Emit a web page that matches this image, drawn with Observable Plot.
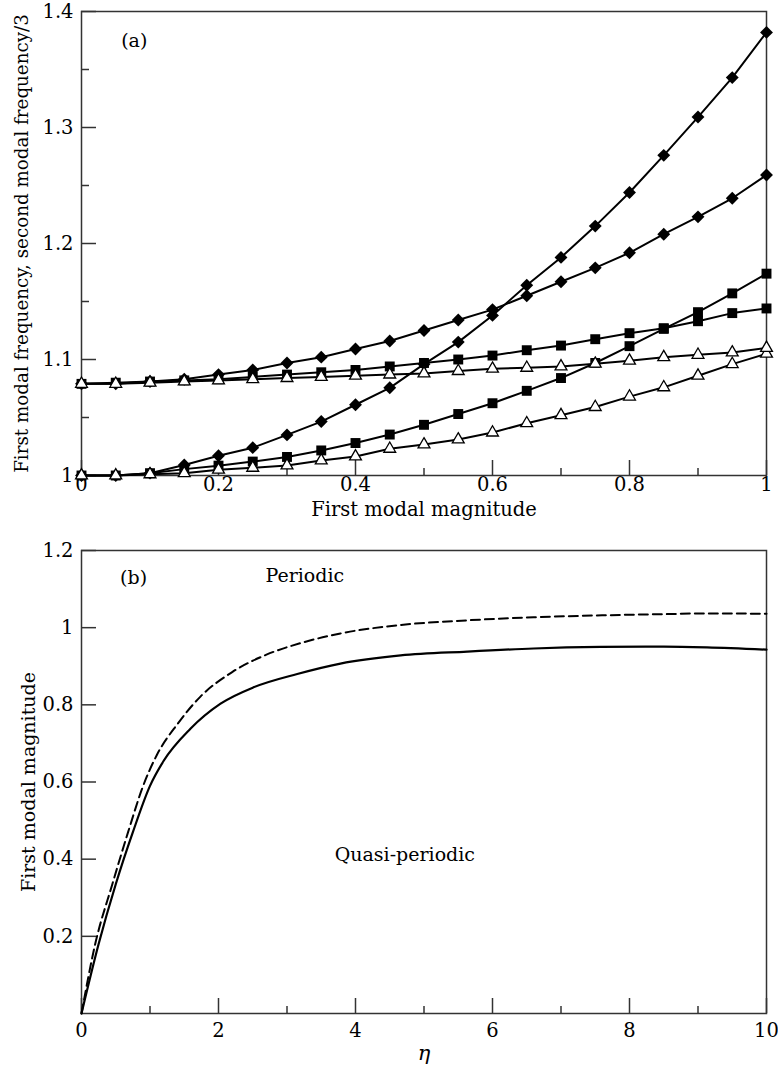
<!DOCTYPE html>
<html><head><meta charset="utf-8">
<script src="https://cdn.jsdelivr.net/npm/d3@7"></script>
<script src="https://cdn.jsdelivr.net/npm/@observablehq/plot@0.6"></script>
<style>
body{margin:0;background:#fff}
#chart svg{display:block}
</style>
</head><body><div id="chart"></div>
<script>
// ---------- Panel (a) data ----------
const magnitude = [0,0.05,0.1,0.15,0.2,0.25,0.3,0.35,0.4,0.45,0.5,0.55,0.6,0.65,0.7,0.75,0.8,0.85,0.9,0.95,1.0];
const diamondLow  = [1.000,1.000,1.002,1.009,1.017,1.024,1.035,1.0465,1.061,1.0756,1.096,1.115,1.138,1.164,1.188,1.215,1.244,1.276,1.309,1.343,1.382];
const diamondHigh = [1.079,1.079,1.081,1.083,1.087,1.091,1.097,1.102,1.109,1.116,1.125,1.134,1.143,1.155,1.167,1.179,1.192,1.208,1.223,1.239,1.259];
const squareLow   = [1.000,1.000,1.002,1.0055,1.0085,1.012,1.016,1.0216,1.028,1.0353,1.0437,1.053,1.0623,1.073,1.084,1.097,1.1115,1.1264,1.1408,1.157,1.174];
const squareHigh  = [1.079,1.080,1.081,1.082,1.083,1.085,1.087,1.089,1.091,1.094,1.097,1.100,1.1034,1.108,1.112,1.1175,1.1227,1.127,1.133,1.140,1.144];
const triLow      = [1.000,1.000,1.001,1.002,1.005,1.0066,1.0086,1.013,1.0164,1.023,1.0267,1.031,1.037,1.045,1.052,1.059,1.068,1.076,1.086,1.096,1.105];
const triHigh     = [1.079,1.079,1.080,1.081,1.082,1.083,1.084,1.085,1.086,1.087,1.088,1.090,1.092,1.0928,1.094,1.0963,1.099,1.102,1.104,1.106,1.110];

const aXTicks = [0,0.2,0.4,0.6,0.8,1];
const aXMinor = [0.1,0.3,0.5,0.7,0.9];
const aYTicks = [1,1.1,1.2,1.3,1.4];
const aYMinor = [1.05,1.15,1.25,1.35];

// ---------- Panel (b) data ----------
const etaSolid = [0,0.25,0.5,0.75,1.0,1.2,1.59,2.03,2.52,3.15,3.78,4.66,5.63,6.6,7.58,8.5,9.13,10];
const magSolid = [0,0.18,0.335,0.47,0.59,0.655,0.738,0.803,0.846,0.880,0.907,0.928,0.938,0.946,0.950,0.951,0.949,0.943];
const etaDash  = [0,0.2,0.45,0.68,0.9,1.1,1.4,1.74,2.2,2.7,3.2,3.78,4.66,5.63,6.6,7.6,8.5,9.13,10];
const magDash  = [0,0.18,0.335,0.47,0.59,0.67,0.75,0.822,0.885,0.93,0.96,0.985,1.007,1.019,1.027,1.032,1.035,1.037,1.036];

const bXTicks = [0,2,4,6,8,10];
const bXMinor = [1,3,5,7,9];
const bYTicks = [0.2,0.4,0.6,0.8,1,1.2];

const fmt = d3.format("~g");
const FONT = "DejaVu Serif";
const AX = "#333";

function series(ys){ return magnitude.map((x,i)=>({x, y: ys[i]})); }
function curve(xs, ys){ return xs.map((x,i)=>({x, y: ys[i]})); }

function tickMarks(xMajor, xMinor, yMajor, yMinor, xPad){
  const m = [
    Plot.axisX({ticks: xMajor, tickSize: 0, tickPadding: xPad, tickFormat: fmt, label: null, fontSize: 19.5}),
    Plot.axisX({ticks: xMajor, tickSize: 15, dy: -15, tickFormat: () => "", label: null, stroke: AX, strokeWidth: 1.5}),
    Plot.axisX({ticks: xMinor, tickSize: 7, dy: -7, tickFormat: () => "", label: null, stroke: AX, strokeWidth: 1.5}),
    Plot.axisY({ticks: yMajor, tickSize: 0, tickPadding: 8, tickFormat: fmt, label: null, fontSize: 19.5}),
    Plot.axisY({ticks: yMajor, tickSize: 15, dx: 15, tickFormat: () => "", label: null, stroke: AX, strokeWidth: 1.5})
  ];
  if (yMinor) m.push(Plot.axisY({ticks: yMinor, tickSize: 8, dx: 8, tickFormat: () => "", label: null, stroke: AX, strokeWidth: 1.5}));
  return m;
}

// ---------- Panel (a) ----------
const aLabelX = ["First modal magnitude"];
const aLabelY = ["First modal frequency, second modal frequency/3"];
const aTag = [{x: 0.077, y: 1.375, t: "(a)"}];

const lineOpts = {x: "x", y: "y", stroke: "#000", strokeWidth: 2};
const plotA = Plot.plot({
  width: 778, height: 525,
  marginLeft: 81, marginRight: 12, marginTop: 11, marginBottom: 50,
  style: {fontFamily: FONT, fontSize: "19px", color: "#000", background: "#fff"},
  x: {domain: [0, 1]},
  y: {domain: [1, 1.4]},
  marks: [
    ...tickMarks(aXTicks, aXMinor, aYTicks, aYMinor, 2),
    Plot.frame({stroke: AX, strokeWidth: 1.5}),
    ...[diamondLow, diamondHigh, squareLow, squareHigh, triLow, triHigh].map(s => Plot.line(series(s), lineOpts)),
    Plot.dot(series(diamondLow), {x: "x", y: "y", symbol: "diamond2", r: 5.8, fill: "#000"}),
    Plot.dot(series(diamondHigh), {x: "x", y: "y", symbol: "diamond2", r: 5.8, fill: "#000"}),
    Plot.dot(series(squareLow), {x: "x", y: "y", symbol: "square", r: 5.6, fill: "#000"}),
    Plot.dot(series(squareHigh), {x: "x", y: "y", symbol: "square", r: 5.6, fill: "#000"}),
    Plot.dot(series(triLow), {x: "x", y: "y", symbol: "triangle", r: 4.4, fill: "#fff", stroke: "#000", strokeWidth: 1.3}),
    Plot.dot(series(triHigh), {x: "x", y: "y", symbol: "triangle", r: 4.4, fill: "#fff", stroke: "#000", strokeWidth: 1.3}),
    Plot.text(aTag, {x: "x", y: "y", text: "t", fontSize: 19}),
    Plot.text(aLabelX, {frameAnchor: "bottom", dy: 34, textAnchor: "middle", lineAnchor: "middle", text: d => d, fontSize: 19.5}),
    Plot.text(aLabelY, {frameAnchor: "left", dx: -59, rotate: -90, textAnchor: "middle", lineAnchor: "middle", text: d => d, fontSize: 18.3})
  ]
});

// ---------- Panel (b) ----------
const bLabelX = ["η"];
const bLabelY = ["First modal magnitude"];
const bNotes = [
  {x: 0.76, y: 1.13, t: "(b)"},
  {x: 3.26, y: 1.133, t: "Periodic"},
  {x: 4.72, y: 0.41, t: "Quasi-periodic"}
];

const plotB = Plot.plot({
  width: 778, height: 551,
  marginLeft: 81, marginRight: 12, marginTop: 25, marginBottom: 63,
  style: {fontFamily: FONT, fontSize: "19px", color: "#000", background: "#fff"},
  x: {domain: [0, 10]},
  y: {domain: [0, 1.2]},
  marks: [
    ...tickMarks(bXTicks, bXMinor, bYTicks, null, 10),
    Plot.frame({stroke: AX, strokeWidth: 1.5}),
    Plot.line(curve(etaDash, magDash), {x: "x", y: "y", stroke: "#000", strokeWidth: 2, strokeDasharray: "9,5", curve: "monotone-x"}),
    Plot.line(curve(etaSolid, magSolid), {x: "x", y: "y", stroke: "#000", strokeWidth: 2.2, curve: "monotone-x"}),
    Plot.text(bNotes, {x: "x", y: "y", text: "t", fontSize: 19}),
    Plot.text(bLabelX, {frameAnchor: "bottom", dy: 40, textAnchor: "middle", lineAnchor: "middle", text: d => d, fontSize: 21, fontStyle: "italic"}),
    Plot.text(bLabelY, {frameAnchor: "left", dx: -53, rotate: -90, textAnchor: "middle", lineAnchor: "middle", text: d => d, fontSize: 19})
  ]
});

const root = document.getElementById("chart");
root.appendChild(plotA);
root.appendChild(plotB);
</script>
</body></html>
